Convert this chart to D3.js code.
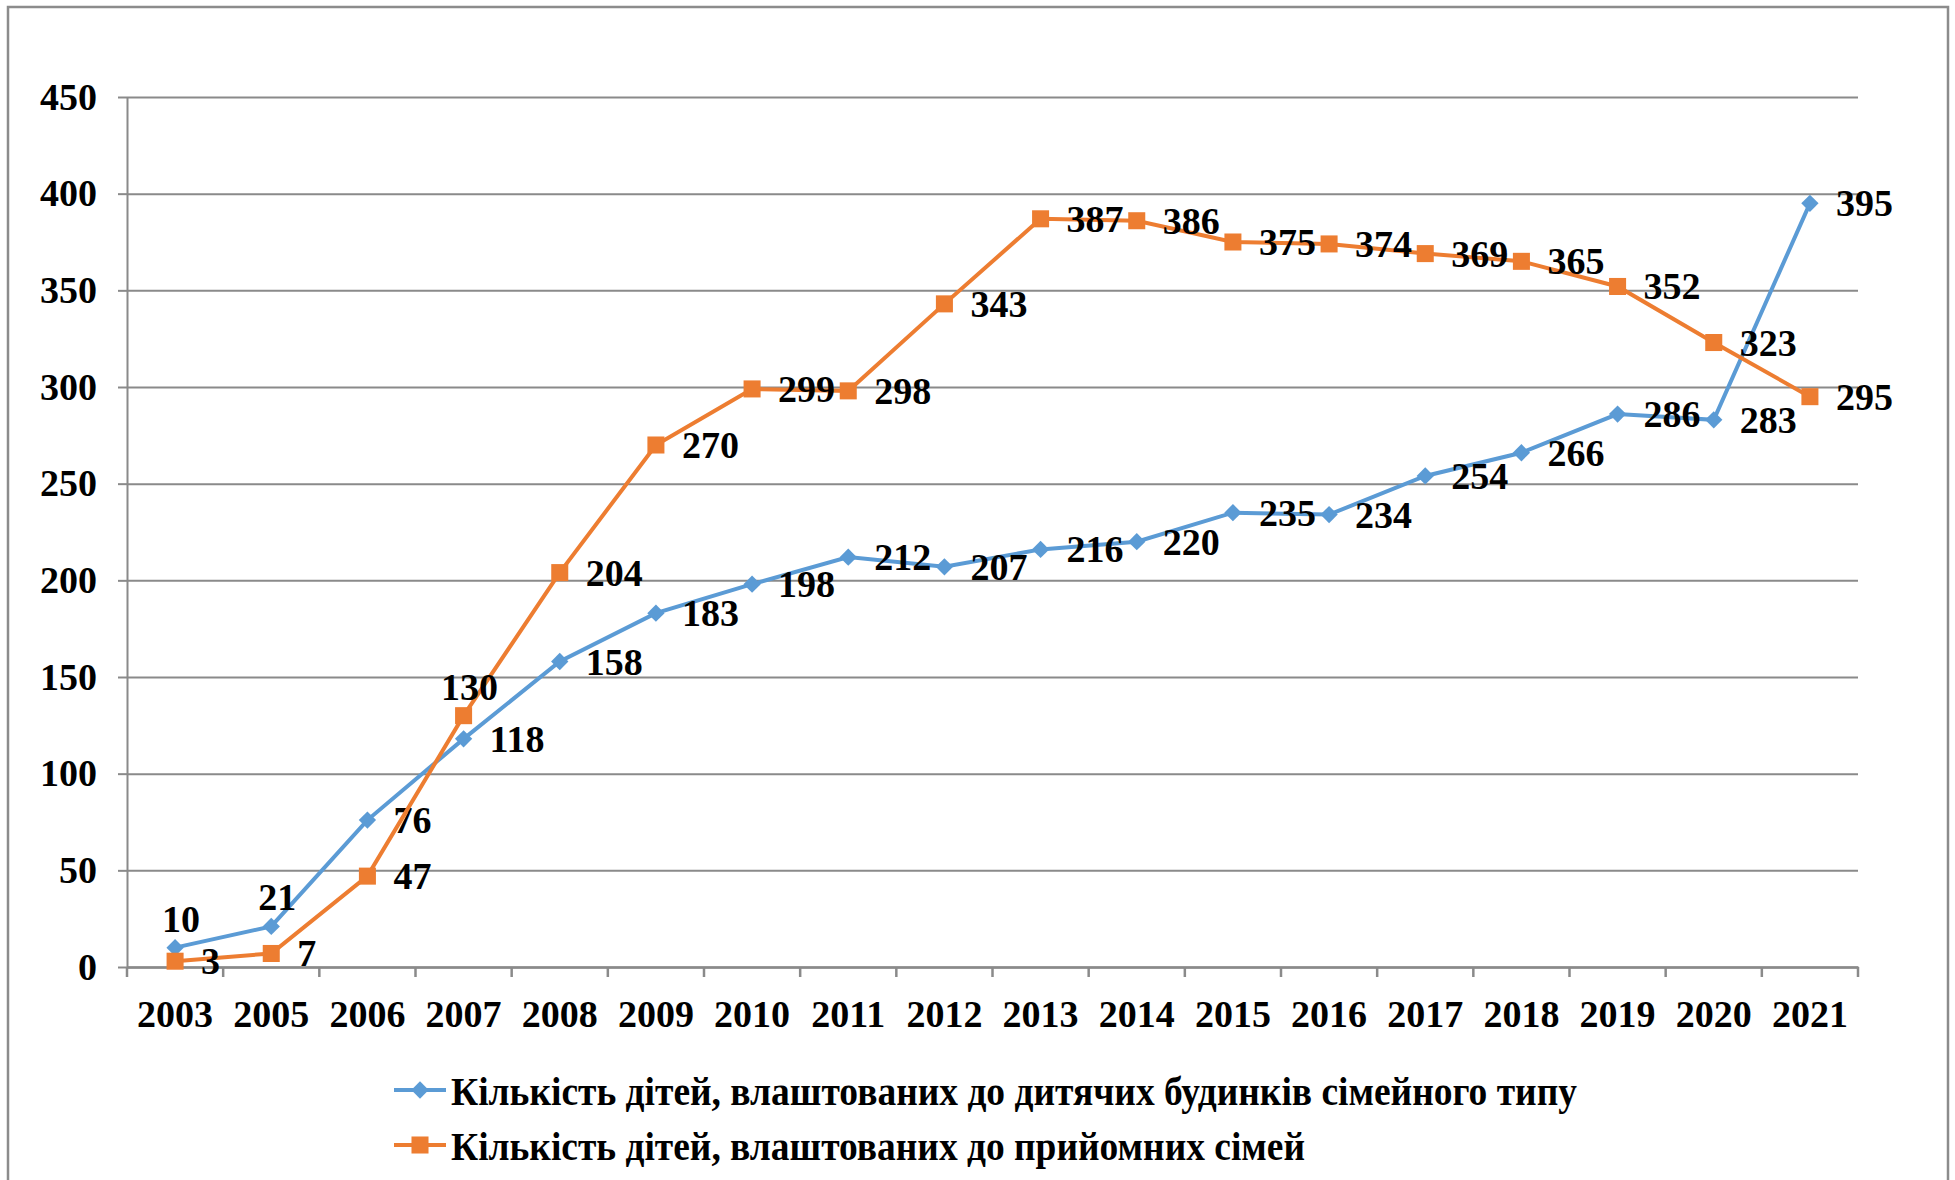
<!DOCTYPE html>
<meta charset="utf-8">
<script src="https://d3js.org/d3.v7.min.js"></script>
<style>
  body { margin: 0; background: #fff; }
  text { font-family: "Liberation Serif", "Times New Roman", serif; font-weight: bold; fill: #000; }
</style>
<div id="chart"></div>
<script>

// data
var years = ["2003", "2005", "2006", "2007", "2008", "2009", "2010", "2011", "2012",
             "2013", "2014", "2015", "2016", "2017", "2018", "2019", "2020", "2021"]
var houses = [10, 21, 76, 118, 158, 183, 198, 212, 207, 216, 220, 235, 234, 254, 266, 286, 283, 395]
var families = [3, 7, 47, 130, 204, 270, 299, 298, 343, 387, 386, 375, 374, 369, 365, 352, 323, 295]
var yTicks = [0, 50, 100, 150, 200, 250, 300, 350, 400, 450]
var seriesNames = ["Кількість дітей, влаштованих до дитячих будинків сімейного типу",
                   "Кількість дітей, влаштованих до прийомних сімей"]
// labels that Excel put above the point instead of to the right
var aboveHouses = ["2003", "2005"]
var aboveFamilies = ["2007"]

var W = 1955, H = 1180
var plotL = 127, plotR = 1858, plotT = 97, plotB = 967
var blue = "#5b9bd5", orange = "#ed7d31", grid = "#8a8a8a"

var svg = d3.select("#chart").append("svg")
    .attr("width", W)
    .attr("height", H)

// outer frame of the chart
svg.append("rect")
    .attr("x", 8).attr("y", 7)
    .attr("width", 1940).attr("height", 1200)
    .attr("fill", "none")
    .attr("stroke", "#8c8c8c")
    .attr("stroke-width", 2.5)

var x = d3.scaleBand().domain(years).range([plotL, plotR]).padding(0)
var y = d3.scaleLinear().domain([0, 450]).range([plotB, plotT])
var cx = function(d) { return x(d) + x.bandwidth() / 2 }

// horizontal gridlines
svg.append("g")
    .attr("transform", "translate(" + plotL + ",0)")
    .call(d3.axisLeft(y).tickValues(yTicks).tickSize(-(plotR - plotL)).tickFormat(""))
    .call(function(g) { g.select(".domain").remove() })
    .selectAll("line").attr("stroke", grid).attr("stroke-width", 2)

// y axis with outward ticks and labels
var ya = svg.append("g")
    .attr("transform", "translate(" + plotL + ",0)")
    .call(d3.axisLeft(y).tickValues(yTicks).tickSize(9).tickSizeOuter(0).tickPadding(21))
ya.select(".domain").attr("stroke", grid).attr("stroke-width", 2)
ya.selectAll("line").attr("stroke", grid).attr("stroke-width", 2)
ya.selectAll("text").style("font-size", "38px").attr("fill", "#000")

// x axis: ticks between categories
var xa = svg.append("g")
    .attr("transform", "translate(0," + plotB + ")")
    .call(d3.axisBottom(x).tickSize(0).tickPadding(33))
xa.select(".domain").attr("stroke", grid).attr("stroke-width", 2.5)
xa.selectAll("text").style("font-size", "38px").attr("fill", "#000")
xa.selectAll("line.sep")
    .data(years.concat(["end"]))
    .enter()
    .append("line")
    .attr("class", "sep")
    .attr("x1", function(d, i) { return plotL + i * x.bandwidth() })
    .attr("x2", function(d, i) { return plotL + i * x.bandwidth() })
    .attr("y1", 0).attr("y2", 10)
    .attr("stroke", grid).attr("stroke-width", 2.5)

var line = d3.line()
    .x(function(d) { return cx(d[0]) })
    .y(function(d) { return y(d[1]) })

// Excel-like markers: diamond = square turned 45 degrees
var square = d3.symbol().type(d3.symbolSquare).size(290)
var diamond = d3.symbol().type(d3.symbolSquare).size(150)

function drawSeries(values, color, isDiamond, above) {
  var pts = years.map(function(yr, i) { return [yr, values[i]] })
  svg.append("path")
      .datum(pts)
      .attr("d", line)
      .attr("fill", "none")
      .attr("stroke", color)
      .attr("stroke-width", 4)
  svg.selectAll(null)
      .data(pts)
      .enter()
      .append("path")
      .attr("d", isDiamond ? diamond : square)
      .attr("transform", function(d) {
        return "translate(" + cx(d[0]) + "," + y(d[1]) + ")" + (isDiamond ? " rotate(45)" : "")
      })
      .attr("fill", color)
  svg.selectAll(null)
      .data(pts)
      .enter()
      .append("text")
      .text(function(d) { return d[1] })
      .style("font-size", "38px")
      .attr("x", function(d) { return above.indexOf(d[0]) >= 0 ? cx(d[0]) + 6 : cx(d[0]) + 26 })
      .attr("y", function(d) { return above.indexOf(d[0]) >= 0 ? y(d[1]) - 16 : y(d[1]) + 13 })
      .attr("text-anchor", function(d) { return above.indexOf(d[0]) >= 0 ? "middle" : "start" })
}

drawSeries(houses, blue, true, aboveHouses)
drawSeries(families, orange, false, aboveFamilies)

// legend
var legend = [
  {name: seriesNames[0], color: blue, isDiamond: true, y: 1090, width: 1126},
  {name: seriesNames[1], color: orange, isDiamond: false, y: 1145, width: 854}
]
legend.forEach(function(l) {
  svg.append("line")
      .attr("x1", 394).attr("x2", 446)
      .attr("y1", l.y).attr("y2", l.y)
      .attr("stroke", l.color).attr("stroke-width", 4)
  svg.append("path")
      .attr("d", l.isDiamond ? diamond : square)
      .attr("transform", "translate(420," + l.y + ")" + (l.isDiamond ? " rotate(45)" : ""))
      .attr("fill", l.color)
  svg.append("text")
      .text(l.name)
      .attr("x", 451)
      .attr("y", l.y + 15)
      .attr("textLength", l.width)
      .attr("lengthAdjust", "spacingAndGlyphs")
      .style("font-size", "40px")
})

</script>
